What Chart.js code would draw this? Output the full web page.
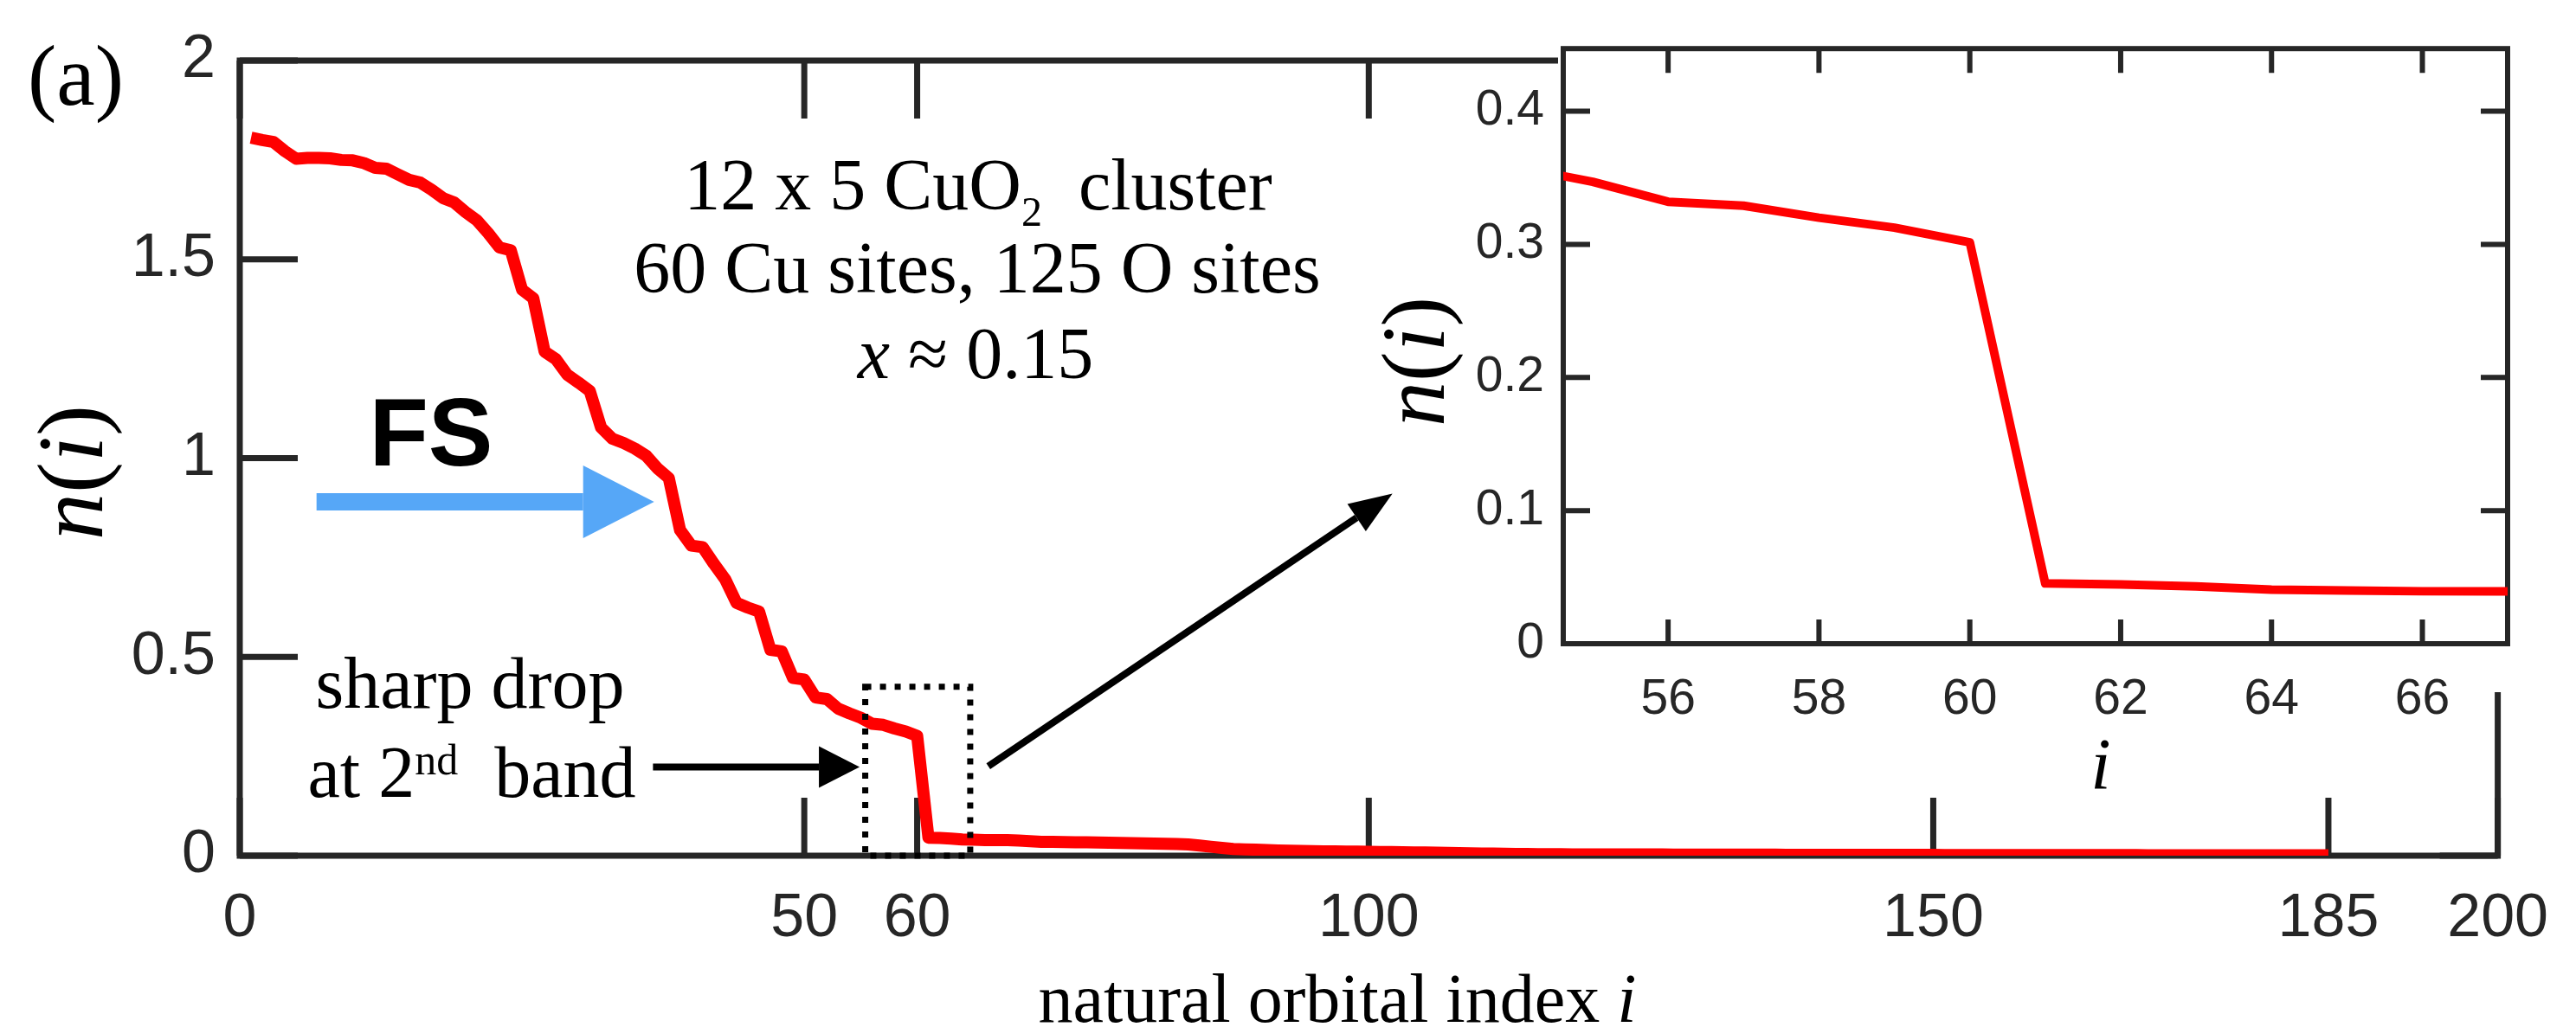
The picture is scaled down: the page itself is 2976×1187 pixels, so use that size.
<!DOCTYPE html>
<html>
<head>
<meta charset="utf-8">
<script src="https://cdn.jsdelivr.net/npm/chart.js@4.4.0/dist/chart.umd.min.js"></script>
<style>
  html, body { margin: 0; padding: 0; background: #fff; }
  #wrap { position: relative; width: 2976px; height: 1187px; }
  #main { position: absolute; left: 0; top: 0; }
  #inset { position: absolute; left: 1560px; top: 0; }
</style>
</head>
<body>
<div id="wrap">
  <canvas id="main" width="2976" height="1187"></canvas>
  <canvas id="inset" width="1360" height="950"></canvas>
</div>
<script>
// occupation n(i) of natural orbital i = 1..185
const occupation = [
    1.806, 1.800, 1.795, 1.772, 1.753, 1.755, 1.755, 1.754, 1.750, 1.749,
    1.742, 1.730, 1.728, 1.714, 1.700, 1.693, 1.675, 1.654, 1.643, 1.619,
    1.598, 1.566, 1.530, 1.523, 1.424, 1.402, 1.268, 1.249, 1.210, 1.190,
    1.169, 1.077, 1.049, 1.038, 1.024, 1.006, 0.974, 0.950, 0.819, 0.780,
    0.776, 0.734, 0.695, 0.636, 0.624, 0.614, 0.518, 0.514, 0.447, 0.443,
    0.398, 0.394, 0.370, 0.358, 0.347, 0.332, 0.329, 0.320, 0.3125, 0.3015,
    0.0453, 0.0445, 0.0430, 0.0406, 0.0400, 0.0394, 0.0394, 0.0390, 0.0380, 0.0365,
    0.0350, 0.0348, 0.0345, 0.0340, 0.0335, 0.0330, 0.0325, 0.0320, 0.0315, 0.0310,
    0.0305, 0.0300, 0.0292, 0.0282, 0.0255, 0.0225, 0.0195, 0.0170, 0.0160, 0.0150,
    0.0140, 0.0132, 0.0125, 0.0120, 0.0115, 0.0110, 0.0107, 0.0104, 0.0101, 0.0099,
    0.0095, 0.0091, 0.0088, 0.0084, 0.0080, 0.0075, 0.0070, 0.0065, 0.0060, 0.0056,
    0.0052, 0.0048, 0.0045, 0.0042, 0.0040, 0.0038, 0.0036, 0.0035, 0.0034, 0.0033,
    0.0032, 0.0032, 0.0031, 0.0031, 0.0030, 0.0030, 0.0029, 0.0029, 0.0028, 0.0028,
    0.0027, 0.0027, 0.0026, 0.0026, 0.0025, 0.0025, 0.0024, 0.0024, 0.0023, 0.0023,
    0.0022, 0.0022, 0.0022, 0.0021, 0.0021, 0.0021, 0.0020, 0.0020, 0.0020, 0.0020,
    0.0019, 0.0019, 0.0019, 0.0018, 0.0018, 0.0018, 0.0017, 0.0017, 0.0017, 0.0016,
    0.0016, 0.0016, 0.0015, 0.0015, 0.0015, 0.0014, 0.0014, 0.0014, 0.0013, 0.0013,
    0.0013, 0.0013, 0.0012, 0.0012, 0.0012, 0.0012, 0.0011, 0.0011, 0.0011, 0.0011,
    0.0010, 0.0010, 0.0010, 0.0010, 0.0010
]

const mainXTicks = [0, 50, 60, 100, 150, 185, 200]
const mainYTicks = [0, 0.5, 1, 1.5, 2]
const insetXTicks = [56, 58, 60, 62, 64, 66]
const insetYTicks = [0, 0.1, 0.2, 0.3, 0.4]
const insetRange = [54.61, 67.13]

const AXIS = '#262626'
const SANS = '"Liberation Sans", Arial, sans-serif'
const SERIF = '"Liberation Serif", "Times New Roman", serif'

let points = occupation.map((v, k) => ({x: k + 1, y: v}))

//closed box with inward ticks on all four sides
function boxPlugin(tickX, tickY, lw) {
    return {
        id: 'box',
        beforeDatasetsDraw(chart) {
            const {ctx, chartArea: a, scales} = chart
            ctx.save()
            ctx.strokeStyle = AXIS
            ctx.lineWidth = lw
            ctx.strokeRect(a.left, a.top, a.right - a.left, a.bottom - a.top)
            ctx.beginPath()
            scales.x.ticks.forEach(t => {
                let px = scales.x.getPixelForValue(t.value)
                ctx.moveTo(px, a.bottom); ctx.lineTo(px, a.bottom - tickX)
                ctx.moveTo(px, a.top); ctx.lineTo(px, a.top + tickX)
            })
            scales.y.ticks.forEach(t => {
                let py = scales.y.getPixelForValue(t.value)
                ctx.moveTo(a.left, py); ctx.lineTo(a.left + tickY, py)
                ctx.moveTo(a.right, py); ctx.lineTo(a.right - tickY, py)
            })
            ctx.stroke()
            ctx.restore()
        }
    }
}

//text made of runs with different fonts / offsets
function runs(ctx, parts, x, y, align) {
    let w = 0
    parts.forEach(p => { ctx.font = p[1]; w += ctx.measureText(p[0]).width })
    if (align !== 'left') x -= w / 2
    ctx.textAlign = 'left'
    ctx.textBaseline = 'alphabetic'
    parts.forEach(p => {
        ctx.font = p[1]
        ctx.fillText(p[0], x, y + (p[2] || 0))
        x += ctx.measureText(p[0]).width
    })
}

function arrow(ctx, x1, y1, x2, y2, lw, headLen, headHalf, color) {
    let ang = Math.atan2(y2 - y1, x2 - x1)
    let bx = x2 - headLen * Math.cos(ang), by = y2 - headLen * Math.sin(ang)
    ctx.strokeStyle = color
    ctx.lineWidth = lw
    ctx.lineCap = 'butt'
    ctx.beginPath(); ctx.moveTo(x1, y1); ctx.lineTo(bx, by); ctx.stroke()
    ctx.fillStyle = color
    ctx.beginPath()
    ctx.moveTo(x2, y2)
    ctx.lineTo(bx + headHalf * Math.sin(ang), by - headHalf * Math.cos(ang))
    ctx.lineTo(bx - headHalf * Math.sin(ang), by + headHalf * Math.cos(ang))
    ctx.closePath()
    ctx.fill()
}

function nOfI(ctx, size) {
    runs(ctx, [['n', 'italic ' + size + 'px ' + SERIF], ['(', size + 'px ' + SERIF],
               ['i', 'italic ' + size + 'px ' + SERIF], [')', size + 'px ' + SERIF]], 0, 0)
}

let annotations = {
    id: 'annotations',
    afterDraw(chart) {
        const ctx = chart.ctx
        const X = v => chart.scales.x.getPixelForValue(v)
        const Y = v => chart.scales.y.getPixelForValue(v)
        ctx.save()

        //dotted box round the drop
        ctx.strokeStyle = '#000'
        ctx.lineWidth = 7
        ctx.setLineDash([7, 10])
        ctx.strokeRect(X(55.4), Y(0.425), X(64.7) - X(55.4), Y(0) - Y(0.425))
        ctx.setLineDash([])

        arrow(ctx, X(6.8), Y(0.89), X(36.7), Y(0.89), 20, 82, 42, 'rgb(86,167,247)')
        arrow(ctx, X(36.6), Y(0.223), X(54.9), Y(0.223), 8, 47, 24, '#000')
        arrow(ctx, X(66.3), Y(0.225), X(102.1), Y(0.911), 8, 50, 19, '#000')

        ctx.fillStyle = '#000'
        runs(ctx, [['(a)', '100px ' + SERIF]], 32, 121, 'left')
        runs(ctx, [['FS', 'bold 112px ' + SANS]], 498, 538)
        runs(ctx, [['12 x 5 CuO', '84px ' + SERIF], ['2', '48px ' + SERIF, 19], ['  cluster', '84px ' + SERIF]], 1130, 242)
        runs(ctx, [['60 Cu sites, 125 O sites', '84px ' + SERIF]], 1129, 338)
        runs(ctx, [['x', 'italic 84px ' + SERIF], [' \u2248 0.15', '84px ' + SERIF]], 1127, 437)
        runs(ctx, [['sharp drop', '84px ' + SERIF]], 543, 818)
        runs(ctx, [['at 2', '84px ' + SERIF], ['nd', '50px ' + SERIF, -26], ['  band', '84px ' + SERIF]], 545, 921)
        runs(ctx, [['natural orbital index ', '80px ' + SERIF], ['i', 'italic 80px ' + SERIF]], 1545, 1181)

        ctx.translate(118, 546)
        ctx.rotate(-Math.PI / 2)
        nOfI(ctx, 108)
        ctx.restore()
    }
}

let mainChart = new Chart(document.getElementById('main').getContext('2d'), {
    type: 'line',
    data: {
        datasets: [{
            data: points,
            borderColor: '#ff0000',
            borderWidth: 14,
            borderJoinStyle: 'round',
            pointRadius: 0,
            tension: 0,
            fill: false
        }]
    },
    options: {
        responsive: false,
        animation: false,
        devicePixelRatio: 1,
        layout: {padding: {top: 47, right: 67, left: 0, bottom: 0}},
        plugins: {legend: {display: false}, tooltip: {enabled: false}},
        scales: {
            x: {
                type: 'linear', min: 0, max: 200,
                afterBuildTicks: s => { s.ticks = mainXTicks.map(v => ({value: v})) },
                afterFit: s => { s.height = 198 },
                grid: {display: false, drawTicks: false},
                border: {display: false},
                ticks: {font: {family: SANS, size: 70}, color: AXIS, padding: 32, maxRotation: 0, autoSkip: false,
                        callback: v => String(v)}
            },
            y: {
                min: 0, max: 2,
                afterBuildTicks: s => { s.ticks = mainYTicks.map(v => ({value: v})) },
                afterFit: s => { s.width = 277 },
                grid: {display: false, drawTicks: false},
                border: {display: false},
                ticks: {font: {family: SANS, size: 70}, color: AXIS, padding: 28,
                        callback: v => String(v)}
            }
        }
    },
    plugins: [boxPlugin(67, 67, 7), annotations]
})

let insetBack = {
    id: 'insetBack',
    beforeDraw(chart) {
        const {ctx, chartArea: a} = chart
        ctx.save()
        ctx.fillStyle = '#fff'
        ctx.fillRect(a.left - 6, a.top - 4, a.right - a.left + 12, a.bottom - a.top + 60)
        ctx.restore()
    },
    afterDraw(chart) {
        const ctx = chart.ctx
        ctx.save()
        ctx.fillStyle = '#000'
        runs(ctx, [['i', 'italic 84px ' + SERIF]], 867, 912)
        ctx.translate(108, 418)
        ctx.rotate(-Math.PI / 2)
        nOfI(ctx, 104)
        ctx.restore()
    }
}

let insetChart = new Chart(document.getElementById('inset').getContext('2d'), {
    type: 'line',
    data: {
        datasets: [{
            data: points.filter(p => p.x >= 54 && p.x <= 68),
            borderColor: '#ff0000',
            borderWidth: 10,
            borderJoinStyle: 'round',
            pointRadius: 0,
            tension: 0,
            fill: false,
            clip: 0
        }]
    },
    options: {
        responsive: false,
        animation: false,
        devicePixelRatio: 1,
        layout: {padding: {top: 55, right: 23, left: 0, bottom: 0}},
        plugins: {legend: {display: false}, tooltip: {enabled: false}},
        scales: {
            x: {
                type: 'linear', min: insetRange[0], max: insetRange[1],
                afterBuildTicks: s => { s.ticks = insetXTicks.map(v => ({value: v})) },
                afterFit: s => { s.height = 206 },
                grid: {display: false, drawTicks: false},
                border: {display: false},
                ticks: {font: {family: SANS, size: 57}, color: AXIS, padding: 31, maxRotation: 0, autoSkip: false,
                        callback: v => String(v)}
            },
            y: {
                min: 0, max: 0.447,
                afterBuildTicks: s => { s.ticks = insetYTicks.map(v => ({value: v})) },
                afterFit: s => { s.width = 246 },
                grid: {display: false, drawTicks: false},
                border: {display: false},
                ticks: {font: {family: SANS, size: 57}, color: AXIS, padding: 22,
                        callback: v => String(+v.toFixed(1))}
            }
        }
    },
    plugins: [insetBack, boxPlugin(28, 31, 6)]
})
</script>
</body>
</html>
